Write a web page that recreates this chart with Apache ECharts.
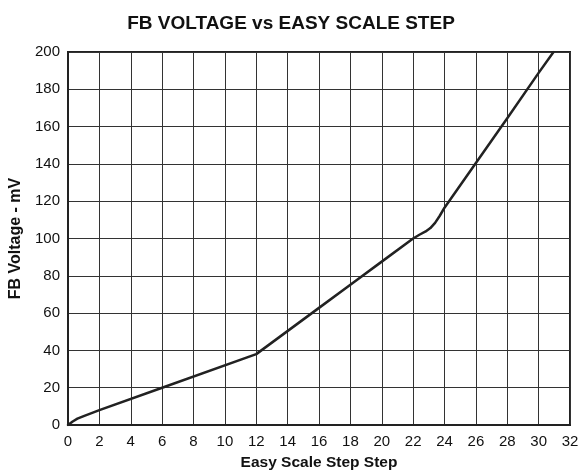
<!DOCTYPE html>
<html><head><meta charset="utf-8">
<script src="https://cdn.jsdelivr.net/npm/echarts@6/dist/echarts.min.js"></script>
<style>html,body{margin:0;padding:0;background:#fff}#c{width:588px;height:470px}</style>
</head><body><div id="c"></div>
<script>
const titleText = "FB VOLTAGE vs EASY SCALE STEP";
const xName = "Easy Scale Step Step";
const yName = "FB Voltage - mV";
const steps = [0, 0.3, 0.6, 1, 1.5, 2, 6, 12, 16, 18, 20, 22, 22.4, 22.8, 23.1, 23.4, 23.7, 24, 26, 28, 30, 30.95];
const voltage = [0, 1.9, 3.4, 4.8, 6.4, 8, 20, 38, 62.8, 75.2, 87.6, 100, 102, 103.8, 105.6, 108.4, 112.2, 116.5, 140.5, 164.5, 188.8, 200];
const chart = echarts.init(document.getElementById('c'));
const font = 'Liberation Sans, Arial, sans-serif';
chart.setOption({
  animation: false,
  title: { text: titleText, left: 286, top: 9, textAlign: 'center',
    textStyle: { fontFamily: font, fontWeight: 'bold', fontSize: 19, color: '#111' } },
  grid: { left: 68, right: 18, top: 52, bottom: 45, show: true, borderColor: '#222', borderWidth: 2,
    containLabel: false, outerBoundsMode: 'none' },
  xAxis: { type: 'value', min: 0, max: 32, interval: 2,
    name: xName, nameLocation: 'middle', nameGap: 30,
    nameTextStyle: { fontFamily: font, fontWeight: 'bold', fontSize: 15.5, color: '#111' },
    axisLine: { show: true, lineStyle: { color: '#222', width: 2 } },
    axisTick: { show: false },
    axisLabel: { fontFamily: font, fontSize: 15, color: '#111', margin: 9 },
    splitLine: { show: true, lineStyle: { color: '#333', width: 1 } } },
  yAxis: { type: 'value', min: 0, max: 200, interval: 20,
    name: yName, nameLocation: 'middle', nameGap: 43, nameRotate: 90,
    nameTextStyle: { fontFamily: font, fontWeight: 'bold', fontSize: 16, color: '#111' },
    axisLine: { show: true, lineStyle: { color: '#222', width: 2 } },
    axisTick: { show: false },
    axisLabel: { fontFamily: font, fontSize: 15, color: '#111', margin: 8 },
    splitLine: { show: true, lineStyle: { color: '#333', width: 1 } } },
  series: [{ type: 'line', data: steps.map((s, i) => [s, voltage[i]]),
    showSymbol: false, smooth: false, clip: true,
    lineStyle: { color: '#222', width: 2.5, join: 'round', cap: 'round' } }]
});
</script></body></html>
